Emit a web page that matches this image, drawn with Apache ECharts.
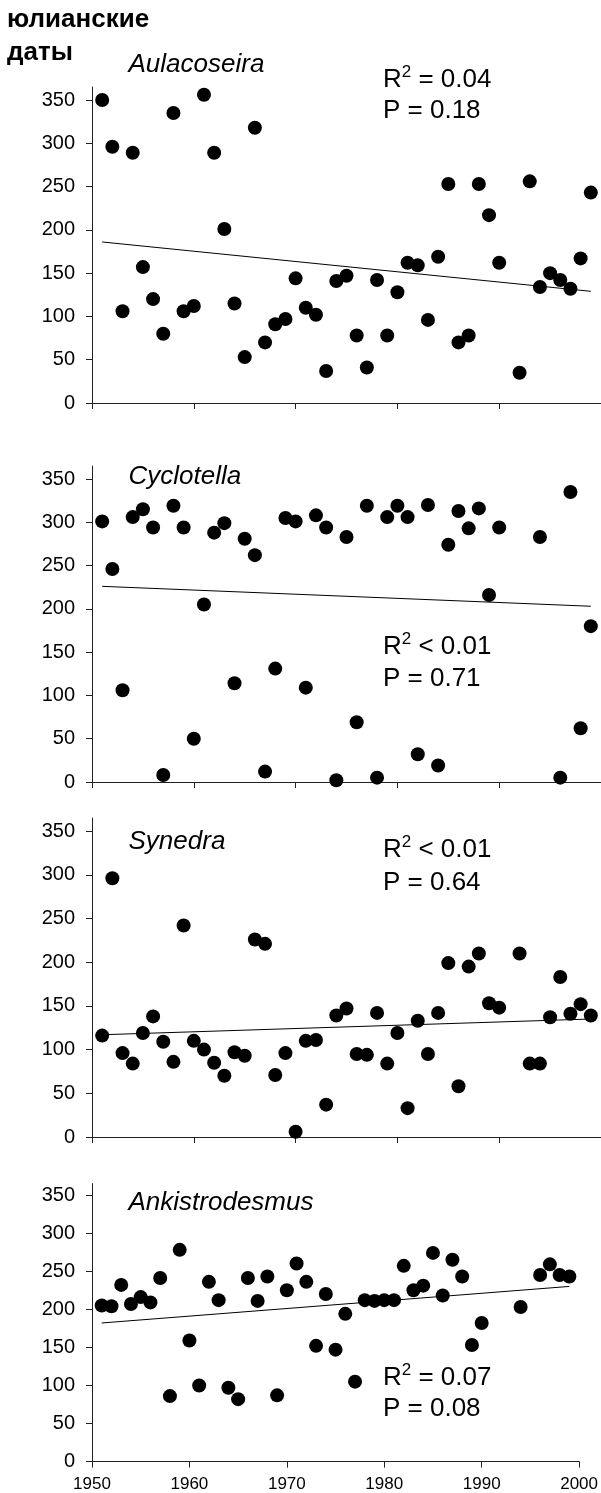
<!DOCTYPE html>
<html><head><meta charset="utf-8">
<script src="https://cdn.jsdelivr.net/npm/echarts@6/dist/echarts.min.js"></script>
<style>html,body{margin:0;padding:0;background:#fff}#c{width:601px;height:1493px}</style>
</head><body><div id="c"></div>
<script>
// ---- data ----
const yTicks = [0, 50, 100, 150, 200, 250, 300, 350];
const xTickLabels = [1950, 1960, 1970, 1980, 1990, 2000];

const yearsAulacoseira = [1951,1952,1953,1954,1955,1956,1957,1958,1959,1960,1961,1962,1963,1964,1965,1966,1967,1968,1969,1970,1971,1972,1973,1974,1975,1976,1977,1978,1979,1980,1981,1982,1983,1984,1985,1986,1987,1988,1989,1990,1992,1993,1994,1995,1996,1997,1998,1999];
const daysAulacoseira = [350,296,106,289,157,120,80,335,106,112,356,289,201,115,53,318,70,91,97,144,110,102,37,141,147,78,41,142,78,128,162,159,96,169,253,70,78,253,217,162,35,256,134,150,142,132,167,243];
const trendAulacoseira = [[1951,186],[1999,129]];

const yearsCyclotella = [1951,1952,1953,1954,1955,1956,1957,1958,1959,1960,1961,1962,1963,1964,1965,1966,1967,1968,1969,1970,1971,1972,1973,1974,1975,1976,1977,1978,1979,1980,1981,1982,1983,1984,1985,1986,1987,1988,1989,1990,1994,1996,1997,1998,1999];
const daysCyclotella = [301,246,106,306,315,294,8,319,294,50,205,288,299,114,281,262,12,131,305,301,109,308,294,2,283,69,319,5,306,319,306,32,320,19,274,313,293,316,216,294,283,5,335,62,180];
const trendCyclotella = [[1951,226],[1999,203]];

const yearsSynedra = [1951,1952,1953,1954,1955,1956,1957,1958,1959,1960,1961,1962,1963,1964,1965,1966,1967,1968,1969,1970,1971,1972,1973,1974,1975,1976,1977,1978,1979,1980,1981,1982,1983,1984,1985,1986,1987,1988,1989,1990,1992,1993,1994,1995,1996,1997,1998,1999];
const daysSynedra = [116,296,96,84,119,138,109,86,242,110,100,85,70,97,93,226,221,71,96,6,110,111,37,139,147,95,94,142,84,119,33,133,95,142,199,58,195,210,153,148,210,84,84,137,183,141,152,139];
const trendSynedra = [[1951,117],[1999,135]];

const yearsAnkistrodesmus = [1951,1952,1953,1954,1955,1956,1957,1958,1959,1960,1961,1962,1963,1964,1965,1966,1967,1968,1969,1970,1971,1972,1973,1974,1975,1976,1977,1978,1979,1980,1981,1982,1983,1984,1985,1986,1987,1988,1989,1990,1994,1996,1997,1998,1999];
const daysAnkistrodesmus = [205,204,232,207,216,209,241,86,278,159,100,236,212,97,82,241,211,243,87,225,260,236,152,220,147,194,105,212,211,212,212,257,225,231,274,218,265,243,153,182,203,245,259,245,243];
const trendAnkistrodesmus = [[1951,182],[1999,230]];

const species = ['Aulacoseira', 'Cyclotella', 'Synedra', 'Ankistrodesmus'];
const statsR = ['= 0.04', '< 0.01', '< 0.01', '= 0.07'];
const statsP = ['P = 0.18', 'P = 0.71', 'P = 0.64', 'P = 0.08'];
const yTitle = ['юлианские', 'даты'];

// ---- layout ----
const FONT = '"Liberation Sans", Arial, sans-serif';
const panels = [
  { years: yearsAulacoseira, days: daysAulacoseira, trend: trendAulacoseira, grid: {left: 92, top: 87, width: 515, height: 316}, nameY: 64.5, rY: 79.5, pY: 111 },
  { years: yearsCyclotella, days: daysCyclotella, trend: trendCyclotella, grid: {left: 92, top: 466, width: 515, height: 316}, nameY: 477, rY: 647, pY: 679.3 },
  { years: yearsSynedra, days: daysSynedra, trend: trendSynedra, grid: {left: 92, top: 818, width: 515, height: 319}, nameY: 842, rY: 850.3, pY: 882.7 },
  { years: yearsAnkistrodesmus, days: daysAnkistrodesmus, trend: trendAnkistrodesmus, grid: {left: 92, top: 1183.6, width: 490, height: 278}, nameY: 1202.7, rY: 1377.7, pY: 1409.3 }
];

const richR = {
  a: {fontSize: 26, fontFamily: FONT, color: '#000', lineHeight: 32},
  s: {fontSize: 17, fontFamily: FONT, color: '#000', lineHeight: 25, verticalAlign: 'top'}
};

const axisCol = '#222';
const grids = [], xAxes = [], yAxes = [], series = [], graphics = [];
panels.forEach((p, i) => {
  grids.push(Object.assign({containLabel: false}, p.grid));
  const last = i === panels.length - 1;
  xAxes.push({
    type: 'value', gridIndex: i, min: xTickLabels[0], max: xTickLabels[xTickLabels.length - 1], interval: 10,
    axisLine: {show: true, onZero: false, lineStyle: {color: axisCol, width: 1}},
    axisTick: {show: true, length: 6, lineStyle: {color: axisCol}},
    splitLine: {show: false},
    axisLabel: {show: last, color: '#000', fontSize: 17, fontFamily: FONT, margin: 14,
      showMinLabel: true, showMaxLabel: true, formatter: v => String(v)}
  });
  yAxes.push({
    type: 'value', gridIndex: i, min: 0, max: 365,
    axisLine: {show: true, onZero: false, lineStyle: {color: axisCol, width: 1}},
    axisTick: {show: true, length: 6, lineStyle: {color: axisCol}, customValues: yTicks},
    axisLabel: {show: true, color: '#000', fontSize: 20, fontFamily: FONT, margin: 17, customValues: yTicks},
    splitLine: {show: false}
  });
  series.push({
    type: 'scatter', xAxisIndex: i, yAxisIndex: i, clip: false,
    symbol: 'circle', symbolSize: 14, itemStyle: {color: '#000', opacity: 1},
    emphasis: {disabled: true},
    data: p.years.map((y, k) => [y, p.days[k]]), z: 3
  });
  series.push({
    type: 'line', xAxisIndex: i, yAxisIndex: i, showSymbol: false, symbol: 'none', clip: false,
    lineStyle: {color: '#000', width: 1}, data: p.trend, z: 2, silent: true
  });
  graphics.push({type: 'text', x: 128.5, y: p.nameY, style: {text: species[i], font: 'italic 26px ' + FONT, fill: '#000', verticalAlign: 'middle'}});
  graphics.push({type: 'text', x: 383, y: p.rY, style: {text: '{a|R}{s|2}{a| ' + statsR[i] + '}', rich: richR, font: '26px ' + FONT, fill: '#000', verticalAlign: 'middle'}});
  graphics.push({type: 'text', x: 383, y: p.pY, style: {text: statsP[i], font: '26px ' + FONT, fill: '#000', verticalAlign: 'middle'}});
});
graphics.push({type: 'text', x: 7, y: 19.6, style: {text: yTitle[0], font: 'bold 26px ' + FONT, fill: '#000', verticalAlign: 'middle'}});
graphics.push({type: 'text', x: 7, y: 53, style: {text: yTitle[1], font: 'bold 26px ' + FONT, fill: '#000', verticalAlign: 'middle'}});

const chart = echarts.init(document.getElementById('c'), null, {renderer: 'canvas'});
chart.setOption({
  animation: false,
  backgroundColor: '#fff',
  grid: grids, xAxis: xAxes, yAxis: yAxes, series: series, graphic: graphics
});
</script>
</body></html>
